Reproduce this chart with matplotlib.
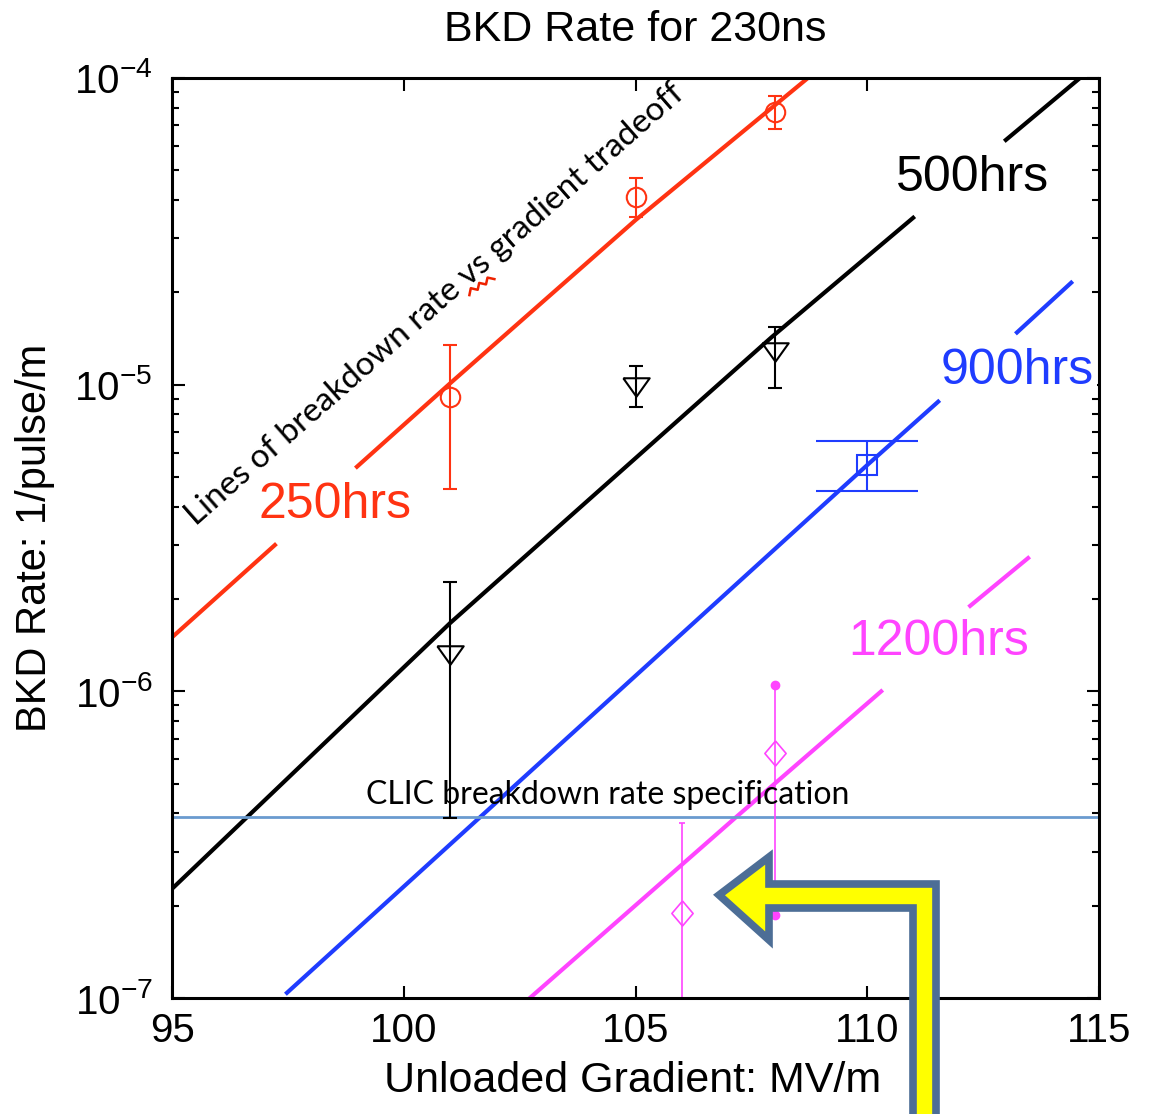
import matplotlib.pyplot as plt
import numpy as np
from matplotlib.patches import Polygon

plt.rcParams["font.family"] = ["Liberation Sans", "DejaVu Sans"]
plt.rcParams["mathtext.default"] = "regular"

# fitted "hours" lines (NaN = gap under the label)
red_x = [95.0, 97.22, np.nan, 98.99, 101.0, 105.0, 108.72]
red_y = [1.5e-6, 3.0e-6, np.nan, 5.4e-6, 1.01e-5, 3.44e-5, 1.0e-4]
black_x = [95.0, 101.0, 107.94, 110.99, np.nan, 112.99, 114.59]
black_y = [2.27e-7, 1.67e-6, 1.43e-5, 3.5e-5, np.nan, 6.28e-5, 1.0e-4]
blue_x = [97.48, 110.0, 111.53, np.nan, 113.23, 114.40]
blue_y = [1.04e-7, 5.47e-6, 8.8e-6, np.nan, 1.48e-5, 2.15e-5]
mag_x = [102.72, 107.17, 110.30, np.nan, 112.22, 113.47]
mag_y = [1.0e-7, 3.89e-7, 1.0e-6, np.nan, 1.9e-6, 2.72e-6]

# measured points with error bars
red_px = [101, 105, 108]
red_py = [9.1e-6, 4.09e-5, 7.74e-5]
red_lo = [4.57e-6, 3.52e-5, 6.82e-5]
red_hi = [1.35e-5, 4.72e-5, 8.73e-5]

black_px = [101, 105, 108]
black_py = [1.31e-6, 9.84e-6, 1.28e-5]
black_lo = [3.86e-7, 8.45e-6, 9.75e-6]
black_hi = [2.28e-6, 1.15e-5, 1.54e-5]

blue_px = [110]
blue_py = [5.47e-6]
blue_lo = [4.5e-6]
blue_hi = [6.55e-6]

mag_px = [106, 108]
mag_py = [1.89e-7, 6.3e-7]
mag_lo = [5.0e-8, 1.87e-7]
mag_hi = [3.72e-7, 1.05e-6]

clic_spec = 3.89e-7

RED = "#ff3312"
BLUE = "#1f3cff"
MAG = "#ff44ff"


def yerr(y, lo, hi):
    y = np.array(y)
    return [y - np.array(lo), np.array(hi) - y]


fig = plt.figure(figsize=(11.49, 11.14), dpi=100)
ax = fig.add_axes([0.1497, 0.1041, 0.8068, 0.8259])

ax.plot(red_x, red_y, color=RED, lw=3)
ax.plot(black_x, black_y, color="black", lw=3)
ax.plot(blue_x, blue_y, color=BLUE, lw=3)
ax.plot(mag_x, mag_y, color=MAG, lw=3)

ax.axhline(clic_spec, color="#6a9bcf", lw=2)

ax.errorbar(red_px, red_py, yerr=yerr(red_py, red_lo, red_hi), fmt="o", ms=14,
            mfc="none", mec=RED, mew=1.5, color=RED, elinewidth=1.5, capsize=5, capthick=1.5)
tri = [(-1, 0.7), (1, 0.7), (0, -0.7), (-1, 0.7)]
ax.errorbar(black_px, black_py, yerr=yerr(black_py, black_lo, black_hi), fmt="none",
            color="black", elinewidth=1.5, capsize=5, capthick=1.5)
ax.plot(black_px, black_py, linestyle="none", marker=tri, ms=19, mfc="none", mec="black", mew=1.5)
ax.errorbar(blue_px, blue_py, yerr=yerr(blue_py, blue_lo, blue_hi), fmt="s", ms=14,
            mfc="none", mec=BLUE, mew=1.5, color=BLUE, elinewidth=1.5, capsize=37, capthick=1.5)
dia = [(0, 1), (0.85, 0), (0, -1), (-0.85, 0), (0, 1)]
ax.errorbar(mag_px, mag_py, yerr=yerr(mag_py, mag_lo, mag_hi), fmt="none",
            color=MAG, elinewidth=1.2, capsize=2, capthick=1.2)
ax.plot(mag_px, mag_py, linestyle="none", marker=dia, ms=18, mfc="none", mec=MAG, mew=1.2)
ax.plot([mag_px[1], mag_px[1]], [mag_lo[1], mag_hi[1]], linestyle="none",
        marker="o", ms=6, color=MAG)

ax.set_yscale("log")
ax.set_xlim(95, 115)
ax.set_ylim(1e-7, 1e-4)
ax.set_xticks([95, 100, 105, 110, 115])
ax.tick_params(which="both", direction="in", top=True, right=True, width=1.5, labelsize=29)
ax.tick_params(which="major", length=9)
ax.tick_params(which="minor", length=5)
ax.tick_params(axis="x", pad=10)
ax.tick_params(axis="y", pad=14)
for spine in ax.spines.values():
    spine.set_linewidth(2.2)

ax.set_xlabel("Unloaded Gradient: MV/m", fontsize=31)
ax.xaxis.set_label_coords(0.497, -0.068)
ax.set_ylabel("BKD Rate: 1/pulse/m", fontsize=30)
ax.yaxis.set_label_coords(-0.126, 0.5)
fig.text(0.553, 0.973, "BKD Rate for 230ns", fontsize=31, ha="center", va="center")

hrs = dict(fontsize=36, ha="center", va="center")
ax.text(98.52, 4.06e-6, "250hrs", color=RED, **hrs)
ax.text(112.26, 4.72e-5, "500hrs", color="black", **hrs)
ax.text(113.23, 1.11e-5, "900hrs", color=BLUE, zorder=6,
        bbox=dict(facecolor="white", edgecolor="none", pad=2), **hrs)
ax.text(111.55, 1.45e-6, "1200hrs", color=MAG, **hrs)

note = dict(family=["Lato", "DejaVu Sans"], color="black")
ax.text(100.67, 1.82e-5, "Lines of breakdown rate vs gradient tradeoff", fontsize=24,
        rotation=41.3, rotation_mode="anchor", ha="center", va="center", **note)
ax.text(104.41, 4.6e-7, "CLIC breakdown rate specification", fontsize=23,
        ha="center", va="center", **note)

W, H = 1149, 1114
# spell-check squiggle under "vs"
squiggle_px = [(469.4, 295.1), (470.8, 288.2), (477.7, 289.8), (479.2, 282.9),
               (486.0, 284.4), (487.5, 277.6), (494.4, 279.1)]
fig.add_artist(plt.Line2D([x / W for x, _ in squiggle_px], [1 - y / H for _, y in squiggle_px],
                          transform=fig.transFigure, color="#ee2200", lw=1.8))

# yellow call-out arrow (figure pixel outline)
arrow_px = [(719, 895), (769, 857), (769, 884), (936, 884), (936, 1130),
            (913, 1130), (913, 908), (769, 908), (769, 940)]
arrow = Polygon([(x / W, 1 - y / H) for x, y in arrow_px], closed=True,
                transform=fig.transFigure, facecolor="#ffff00", edgecolor="#4d6e96",
                lw=5.5, joinstyle="miter", zorder=10)
fig.add_artist(arrow)

fig.savefig("out.png", dpi=100)
